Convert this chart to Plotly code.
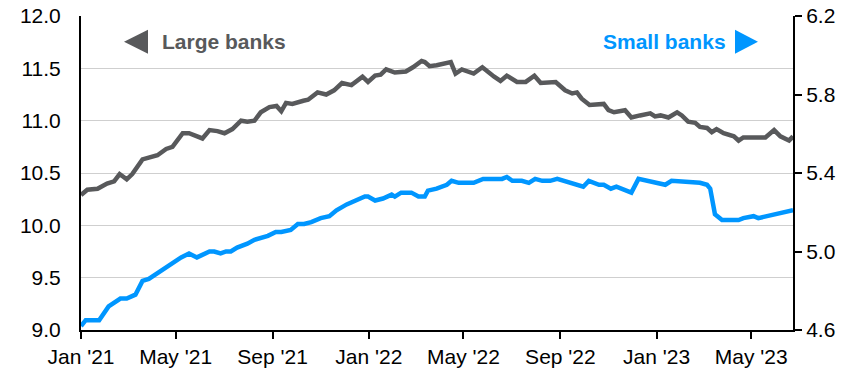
import plotly.graph_objects as go

# ---- data ----
large_dates = [
    "2021-01-01", "2021-01-09", "2021-01-22", "2021-02-03", "2021-02-12", "2021-02-19",
    "2021-02-28", "2021-03-07", "2021-03-20", "2021-03-28", "2021-04-08", "2021-04-19",
    "2021-04-27", "2021-05-10", "2021-05-18", "2021-06-04", "2021-06-13", "2021-06-23",
    "2021-07-02", "2021-07-12", "2021-07-23", "2021-07-31", "2021-08-09", "2021-08-17",
    "2021-08-28", "2021-09-06", "2021-09-12", "2021-09-18", "2021-09-26", "2021-10-10",
    "2021-10-16", "2021-10-28", "2021-11-08", "2021-11-18", "2021-11-28", "2021-12-10",
    "2021-12-24", "2021-12-31", "2022-01-09", "2022-01-16", "2022-01-23", "2022-02-03",
    "2022-02-17", "2022-02-26", "2022-03-09", "2022-03-13", "2022-03-19", "2022-03-28",
    "2022-04-06", "2022-04-15", "2022-04-21", "2022-04-29", "2022-05-14", "2022-05-25",
    "2022-06-09", "2022-06-17", "2022-06-25", "2022-07-08", "2022-07-19", "2022-07-30",
    "2022-08-07", "2022-08-17", "2022-08-26", "2022-09-07", "2022-09-16", "2022-09-22",
    "2022-09-28", "2022-10-08", "2022-10-18", "2022-10-26", "2022-11-01", "2022-11-08",
    "2022-11-22", "2022-11-30", "2022-12-11", "2022-12-24", "2022-12-30", "2023-01-06",
    "2023-01-16", "2023-01-27", "2023-02-02", "2023-02-10", "2023-02-19", "2023-02-25",
    "2023-03-06", "2023-03-12", "2023-03-18", "2023-03-27", "2023-04-09", "2023-04-15",
    "2023-04-21", "2023-05-19", "2023-05-30", "2023-06-07", "2023-06-18", "2023-06-23",
]
large_banks = [
    10.29, 10.34, 10.35, 10.40, 10.42, 10.49,
    10.44, 10.49, 10.63, 10.65, 10.67, 10.73,
    10.75, 10.88, 10.88, 10.83, 10.91, 10.90,
    10.88, 10.92, 11.00, 10.99, 11.00, 11.08,
    11.13, 11.14, 11.09, 11.17, 11.16, 11.19,
    11.20, 11.27, 11.25, 11.29, 11.36, 11.34,
    11.42, 11.37, 11.43, 11.44, 11.49, 11.46,
    11.47, 11.51, 11.57, 11.56, 11.52, 11.53,
    11.54, 11.56, 11.45, 11.49, 11.45, 11.51,
    11.42, 11.38, 11.43, 11.37, 11.37, 11.43,
    11.36, 11.36, 11.37, 11.29, 11.26, 11.27,
    11.21, 11.15, 11.15, 11.16, 11.10, 11.08,
    11.10, 11.03, 11.05, 11.07, 11.04, 11.05,
    11.03, 11.08, 11.05, 10.99, 10.98, 10.94,
    10.93, 10.89, 10.92, 10.88, 10.85, 10.81,
    10.84, 10.84, 10.91, 10.85, 10.81, 10.85,
]

small_dates = [
    "2021-01-01", "2021-01-07", "2021-01-24", "2021-02-05", "2021-02-20", "2021-02-28",
    "2021-03-11", "2021-03-20", "2021-03-28", "2021-04-19", "2021-05-08", "2021-05-18",
    "2021-05-28", "2021-06-13", "2021-06-19", "2021-06-27", "2021-07-04", "2021-07-10",
    "2021-07-18", "2021-07-31", "2021-08-09", "2021-08-26", "2021-09-05", "2021-09-12",
    "2021-09-20", "2021-09-24", "2021-10-03", "2021-10-11", "2021-10-20", "2021-11-01",
    "2021-11-12", "2021-11-21", "2021-12-04", "2021-12-14", "2021-12-27", "2021-12-31",
    "2022-01-09", "2022-01-19", "2022-01-30", "2022-02-03", "2022-02-11", "2022-02-24",
    "2022-03-05", "2022-03-13", "2022-03-17", "2022-03-28", "2022-04-02", "2022-04-10",
    "2022-04-16", "2022-04-25", "2022-05-14", "2022-05-26", "2022-06-19", "2022-06-25",
    "2022-07-02", "2022-07-14", "2022-07-23", "2022-07-31", "2022-08-09", "2022-08-19",
    "2022-08-28", "2022-09-12", "2022-09-24", "2022-09-30", "2022-10-07", "2022-10-20",
    "2022-10-26", "2022-11-04", "2022-11-11", "2022-11-22", "2022-11-30", "2022-12-09",
    "2022-12-20", "2023-01-01", "2023-01-12", "2023-01-20", "2023-02-19", "2023-02-25",
    "2023-03-06", "2023-03-10", "2023-03-16", "2023-03-25", "2023-04-15", "2023-04-21",
    "2023-05-04", "2023-05-10", "2023-05-21", "2023-06-01", "2023-06-11", "2023-06-23",
]
small_banks = [
    4.62, 4.65, 4.65, 4.72, 4.76, 4.76,
    4.78, 4.85, 4.86, 4.92, 4.97, 4.99,
    4.97, 5.00, 5.00, 4.99, 5.00, 5.00,
    5.02, 5.04, 5.06, 5.08, 5.10, 5.10,
    5.11, 5.11, 5.14, 5.14, 5.15, 5.17,
    5.18, 5.21, 5.24, 5.26, 5.28, 5.28,
    5.26, 5.27, 5.29, 5.28, 5.30, 5.30,
    5.28, 5.28, 5.31, 5.32, 5.33, 5.34,
    5.36, 5.35, 5.35, 5.37, 5.37, 5.38,
    5.36, 5.36, 5.35, 5.37, 5.36, 5.36,
    5.37, 5.35, 5.34, 5.33, 5.36, 5.34,
    5.34, 5.32, 5.33, 5.31, 5.30, 5.37,
    5.36, 5.35, 5.34, 5.36, 5.35, 5.35,
    5.34, 5.32, 5.19, 5.16, 5.16, 5.17,
    5.18, 5.17, 5.18, 5.19, 5.20, 5.21,
]

x_tick_dates = ["2021-01-01", "2021-05-01", "2021-09-01", "2022-01-01", "2022-05-01",
                "2022-09-01", "2023-01-01", "2023-05-01"]
x_tick_labels = ["Jan '21", "May '21", "Sep '21", "Jan '22", "May '22",
                 "Sep '22", "Jan '23", "May '23"]
x_range = ["2021-01-01", "2023-06-23"]

GRAY = "#58595B"
BLUE = "#0096FF"
FONT = "Liberation Sans, Arial, sans-serif"

fig = go.Figure()
fig.add_trace(go.Scatter(x=large_dates, y=large_banks, mode="lines", name="Large banks",
                         line=dict(color=GRAY, width=4.5), yaxis="y"))
fig.add_trace(go.Scatter(x=small_dates, y=small_banks, mode="lines", name="Small banks",
                         line=dict(color=BLUE, width=4.5), yaxis="y2"))

fig.update_layout(
    width=862, height=372,
    margin=dict(l=81, r=69, t=16, b=42, autoexpand=False),
    paper_bgcolor="white", plot_bgcolor="white",
    showlegend=False,
    font=dict(family=FONT, size=21, color="#000000"),
    xaxis=dict(
        type="date", range=x_range, automargin=False,
        tickvals=x_tick_dates, ticktext=x_tick_labels,
        showgrid=False, zeroline=False,
        showline=True, linecolor="#000000", linewidth=2,
        ticks="outside", ticklen=7, tickwidth=2, tickcolor="#000000",
        tickfont=dict(size=21),
    ),
    yaxis=dict(
        range=[9.0, 12.0], dtick=0.5, tick0=9.0, tickformat=".1f", automargin=False,
        showgrid=True, gridcolor="#CFCFCF", gridwidth=1,
        zeroline=False,
        showline=True, linecolor="#000000", linewidth=2,
        ticks="", ticklabelstandoff=14,
        tickfont=dict(size=21),
    ),
    yaxis2=dict(
        range=[4.6, 6.2], dtick=0.4, tick0=4.6, tickformat=".1f", automargin=False,
        overlaying="y", side="right",
        showgrid=False, zeroline=False,
        showline=True, linecolor="#000000", linewidth=2,
        ticks="outside", ticklen=7, tickwidth=2, tickcolor="#000000",
        tickfont=dict(size=21),
    ),
)

# legend-like labels with triangles
fig.add_shape(type="path", xref="paper", yref="paper",
              xsizemode="pixel", ysizemode="pixel",
              xanchor=0.0604, yanchor=0.918,
              path="M0,0 L24,12 L24,-12 Z",
              fillcolor=GRAY, line=dict(width=0))
fig.add_annotation(xref="paper", yref="paper", x=0.111, y=0.918,
                   xanchor="left", yanchor="middle", showarrow=False,
                   text="<b>Large banks</b>", font=dict(size=21, color=GRAY, family=FONT))
fig.add_shape(type="path", xref="paper", yref="paper",
              xsizemode="pixel", ysizemode="pixel",
              xanchor=0.9185, yanchor=0.918,
              path="M0,12 L23,0 L0,-12 Z",
              fillcolor=BLUE, line=dict(width=0))
fig.add_annotation(xref="paper", yref="paper", x=0.909, y=0.918,
                   xanchor="right", yanchor="middle", showarrow=False,
                   text="<b>Small banks</b>", font=dict(size=21, color=BLUE, family=FONT))

fig.write_html("out.html", config={"displayModeBar": False},
               post_script="document.body.style.margin='0';")
